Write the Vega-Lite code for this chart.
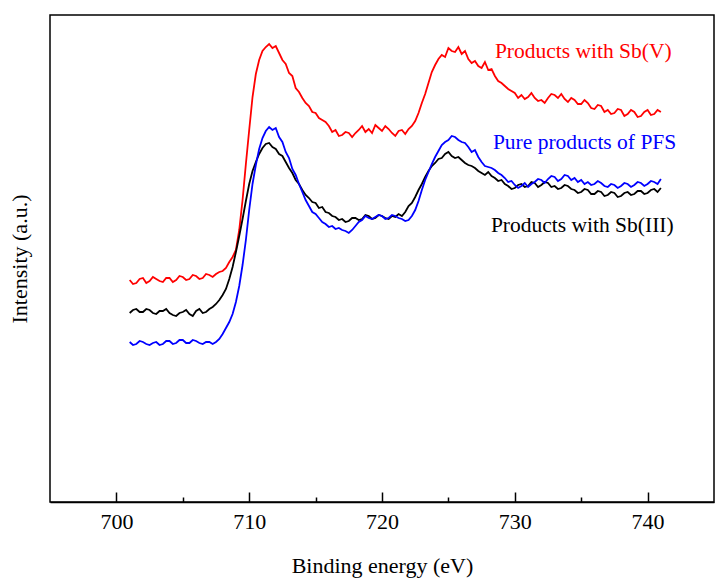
{
  "$schema": "https://vega.github.io/schema/vega-lite/v6.json",
  "width": 664,
  "height": 487,
  "autosize": {"type": "none"},
  "padding": {"left": 50, "top": 15, "right": 5, "bottom": 83},
  "background": "white",
  "config": {
    "view": {"stroke": "black", "strokeWidth": 1.5},
    "font": "Liberation Serif",
    "axis": {"grid": false, "labelFont": "Liberation Serif", "titleFont": "Liberation Serif"}
  },
  "datasets": {
    "spectra": [
      {"e":701.00,"r":222,"k":189,"b":160},{"e":701.25,"r":218,"k":192,"b":157},{"e":701.50,"r":219,"k":193,"b":158},{"e":701.75,"r":223,"k":190,"b":161},
      {"e":702.00,"r":224,"k":190,"b":160},{"e":702.25,"r":219,"k":193,"b":158},{"e":702.50,"r":221,"k":192,"b":157},{"e":702.75,"r":225,"k":189,"b":159},
      {"e":703.00,"r":223,"k":188,"b":160},{"e":703.25,"r":221,"k":191,"b":157},{"e":703.50,"r":220,"k":191,"b":158},{"e":703.75,"r":224,"k":193,"b":161},
      {"e":704.00,"r":224,"k":189,"b":161},{"e":704.25,"r":220,"k":187,"b":158},{"e":704.50,"r":222,"k":186,"b":159},{"e":704.75,"r":226,"k":189,"b":162},
      {"e":705.00,"r":225,"k":190,"b":162},{"e":705.25,"r":222,"k":192,"b":159},{"e":705.50,"r":223,"k":188,"b":159},{"e":705.75,"r":227,"k":186,"b":162},
      {"e":706.00,"r":226,"k":191,"b":161},{"e":706.25,"r":223,"k":193,"b":159},{"e":706.50,"r":224,"k":189,"b":158},{"e":706.75,"r":228,"k":190,"b":160},
      {"e":707.00,"r":227,"k":193,"b":160},{"e":707.25,"r":225,"k":195,"b":158},{"e":707.50,"r":228,"k":198,"b":160},{"e":707.75,"r":230,"k":202,"b":163},
      {"e":708.00,"r":231,"k":207,"b":168},{"e":708.25,"r":234,"k":213,"b":174},{"e":708.50,"r":240,"k":223,"b":180},{"e":708.75,"r":245,"k":235,"b":188},
      {"e":709.00,"r":252,"k":250,"b":200},{"e":709.25,"r":272,"k":266,"b":216},{"e":709.50,"r":302,"k":283,"b":237},{"e":709.75,"r":338,"k":301,"b":262},
      {"e":710.00,"r":372,"k":318,"b":292},{"e":710.25,"r":405,"k":331,"b":318},{"e":710.50,"r":428,"k":340,"b":337},{"e":710.75,"r":442,"k":348,"b":353},
      {"e":711.00,"r":451,"k":354,"b":364},{"e":711.25,"r":455,"k":358,"b":371},{"e":711.50,"r":458,"k":359,"b":375},{"e":711.75,"r":454,"k":355,"b":372},
      {"e":712.00,"r":456,"k":353,"b":374},{"e":712.25,"r":449,"k":348,"b":365},{"e":712.50,"r":442,"k":346,"b":360},{"e":712.75,"r":438,"k":340,"b":350},
      {"e":713.00,"r":429,"k":334,"b":344},{"e":713.25,"r":426,"k":329,"b":333},{"e":713.50,"r":414,"k":322,"b":327},{"e":713.75,"r":410,"k":318,"b":318},
      {"e":714.00,"r":404,"k":312,"b":310},{"e":714.25,"r":399,"k":307,"b":302},{"e":714.50,"r":396,"k":304,"b":296},{"e":714.75,"r":390,"k":300,"b":290},
      {"e":715.00,"r":389,"k":299,"b":288},{"e":715.25,"r":384,"k":294,"b":284},{"e":715.50,"r":382,"k":295,"b":280},{"e":715.75,"r":380,"k":290,"b":278},
      {"e":716.00,"r":376,"k":289,"b":275},{"e":716.25,"r":370,"k":286,"b":276},{"e":716.50,"r":372,"k":285,"b":273},{"e":716.75,"r":366,"k":282,"b":274},
      {"e":717.00,"r":367,"k":283,"b":272},{"e":717.25,"r":370,"k":280,"b":271},{"e":717.50,"r":369,"k":281,"b":269},{"e":717.75,"r":365,"k":284,"b":272},
      {"e":718.00,"r":369,"k":284,"b":276},{"e":718.25,"r":372,"k":282,"b":280},{"e":718.50,"r":376,"k":283,"b":282},{"e":718.75,"r":370,"k":287,"b":286},
      {"e":719.00,"r":373,"k":286,"b":284},{"e":719.25,"r":369,"k":283,"b":283},{"e":719.50,"r":377,"k":284,"b":285},{"e":719.75,"r":374,"k":287,"b":287},
      {"e":720.00,"r":371,"k":286,"b":286},{"e":720.25,"r":376,"k":284,"b":283},{"e":720.50,"r":373,"k":283,"b":284},{"e":720.75,"r":369,"k":286,"b":287},
      {"e":721.00,"r":366,"k":285,"b":286},{"e":721.25,"r":371,"k":288,"b":284},{"e":721.50,"r":372,"k":286,"b":283},{"e":721.75,"r":368,"k":290,"b":281},
      {"e":722.00,"r":373,"k":296,"b":282},{"e":722.25,"r":376,"k":299,"b":286},{"e":722.50,"r":381,"k":305,"b":292},{"e":722.75,"r":389,"k":312,"b":301},
      {"e":723.00,"r":399,"k":318,"b":312},{"e":723.25,"r":408,"k":325,"b":322},{"e":723.50,"r":419,"k":331,"b":330},{"e":723.75,"r":430,"k":336,"b":338},
      {"e":724.00,"r":437,"k":339,"b":345},{"e":724.25,"r":443,"k":343,"b":351},{"e":724.50,"r":447,"k":344,"b":357},{"e":724.75,"r":445,"k":348,"b":360},
      {"e":725.00,"r":454,"k":350,"b":362},{"e":725.25,"r":451,"k":346,"b":366},{"e":725.50,"r":450,"k":344,"b":365},{"e":725.75,"r":455,"k":345,"b":362},
      {"e":726.00,"r":448,"k":342,"b":360},{"e":726.25,"r":451,"k":339,"b":359},{"e":726.50,"r":443,"k":337,"b":355},{"e":726.75,"r":439,"k":336,"b":350},
      {"e":727.00,"r":441,"k":334,"b":352},{"e":727.25,"r":436,"k":331,"b":345},{"e":727.50,"r":434,"k":329,"b":340},{"e":727.75,"r":440,"k":327,"b":336},
      {"e":728.00,"r":432,"k":330,"b":335},{"e":728.25,"r":433,"k":326,"b":334},{"e":728.50,"r":426,"k":324,"b":332},{"e":728.75,"r":421,"k":321,"b":329},
      {"e":729.00,"r":419,"k":322,"b":327},{"e":729.25,"r":416,"k":318,"b":324},{"e":729.50,"r":413,"k":316,"b":320},{"e":729.75,"r":411,"k":313,"b":321},
      {"e":730.00,"r":409,"k":314,"b":317},{"e":730.25,"r":404,"k":317,"b":314},{"e":730.50,"r":407,"k":318,"b":316},{"e":730.75,"r":403,"k":315,"b":319},
      {"e":731.00,"r":405,"k":316,"b":315},{"e":731.25,"r":409,"k":320,"b":318},{"e":731.50,"r":404,"k":319,"b":320},{"e":731.75,"r":401,"k":315,"b":323},
      {"e":732.00,"r":402,"k":317,"b":322},{"e":732.25,"r":399,"k":320,"b":319},{"e":732.50,"r":404,"k":319,"b":323},{"e":732.75,"r":408,"k":315,"b":326},
      {"e":733.00,"r":407,"k":316,"b":325},{"e":733.25,"r":404,"k":313,"b":321},{"e":733.50,"r":408,"k":314,"b":323},{"e":733.75,"r":403,"k":317,"b":327},
      {"e":734.00,"r":400,"k":316,"b":326},{"e":734.25,"r":404,"k":313,"b":322},{"e":734.50,"r":402,"k":312,"b":324},{"e":734.75,"r":398,"k":309,"b":320},
      {"e":735.00,"r":398,"k":310,"b":322},{"e":735.25,"r":402,"k":313,"b":318},{"e":735.50,"r":399,"k":312,"b":320},{"e":735.75,"r":394,"k":308,"b":317},
      {"e":736.00,"r":393,"k":308,"b":318},{"e":736.25,"r":397,"k":311,"b":321},{"e":736.50,"r":396,"k":310,"b":319},{"e":736.75,"r":390,"k":306,"b":316},
      {"e":737.00,"r":392,"k":307,"b":315},{"e":737.25,"r":388,"k":310,"b":318},{"e":737.50,"r":389,"k":309,"b":317},{"e":737.75,"r":393,"k":305,"b":314},
      {"e":738.00,"r":392,"k":306,"b":316},{"e":738.25,"r":386,"k":309,"b":319},{"e":738.50,"r":388,"k":310,"b":318},{"e":738.75,"r":392,"k":307,"b":315},
      {"e":739.00,"r":390,"k":308,"b":317},{"e":739.25,"r":385,"k":311,"b":320},{"e":739.50,"r":386,"k":311,"b":319},{"e":739.75,"r":390,"k":308,"b":316},
      {"e":740.00,"r":392,"k":309,"b":318},{"e":740.25,"r":387,"k":312,"b":321},{"e":740.50,"r":388,"k":313,"b":320},{"e":740.75,"r":392,"k":310,"b":318},
      {"e":741.00,"r":390,"k":314,"b":323}
    ],
    "labels": [
      {"e": 728.5, "i": 450, "label": "Products with Sb(V)", "s": "r"},
      {"e": 728.35, "i": 359, "label": "Pure products of PFS", "s": "b"},
      {"e": 728.2, "i": 276, "label": "Products with Sb(III)", "s": "k"}
    ]
  },
  "resolve": {"axis": {"x": "independent"}},
  "layer": [
    {
      "data": {"name": "spectra"},
      "transform": [{"fold": ["r", "k", "b"], "as": ["s", "i"]}],
      "mark": {"type": "line", "strokeWidth": 1.8, "interpolate": "linear"},
      "encoding": {
        "x": {"field": "e", "type": "quantitative", "scale": {"domain": [695, 745], "nice": false, "zero": false},
              "axis": {"title": "Binding energy (eV)", "values": [700, 710, 720, 730, 740], "orient": "bottom",
                       "tickSize": -10, "tickWidth": 1.5, "tickColor": "black", "domainColor": "black", "domainWidth": 1.5,
                       "labelFont": "Liberation Serif", "labelFontSize": 22, "labelColor": "black", "labelPadding": 19,
                       "titleFont": "Liberation Serif", "titleFontWeight": "normal", "titleFontSize": 22, "titleColor": "black", "titlePadding": 23}},
        "y": {"field": "i", "type": "quantitative", "scale": {"domain": [0, 487], "nice": false},
              "axis": {"title": "Intensity (a.u.)", "ticks": false, "labels": false, "domain": false,
                       "titleFont": "Liberation Serif", "titleFontWeight": "normal", "titleFontSize": 22, "titleColor": "black", "titlePadding": 19}},
        "color": {"field": "s", "type": "nominal", "scale": {"domain": ["r", "k", "b"], "range": ["#ff0000", "#000000", "#0000ff"]}, "legend": null},
        "detail": {"field": "s"}
      }
    },
    {
      "data": {"name": "labels"},
      "mark": {"type": "text", "align": "left", "baseline": "middle", "fontSize": 21.5, "font": "Liberation Serif"},
      "encoding": {
        "x": {"field": "e", "type": "quantitative", "scale": {"domain": [695, 745], "nice": false, "zero": false},
              "axis": {"title": null, "values": [705, 715, 725, 735], "orient": "bottom", "labels": false, "domain": false,
                       "tickSize": -5, "tickWidth": 1.5, "tickColor": "black"}},
        "y": {"field": "i", "type": "quantitative"},
        "text": {"field": "label"},
        "color": {"field": "s", "type": "nominal", "legend": null}
      }
    }
  ]
}
